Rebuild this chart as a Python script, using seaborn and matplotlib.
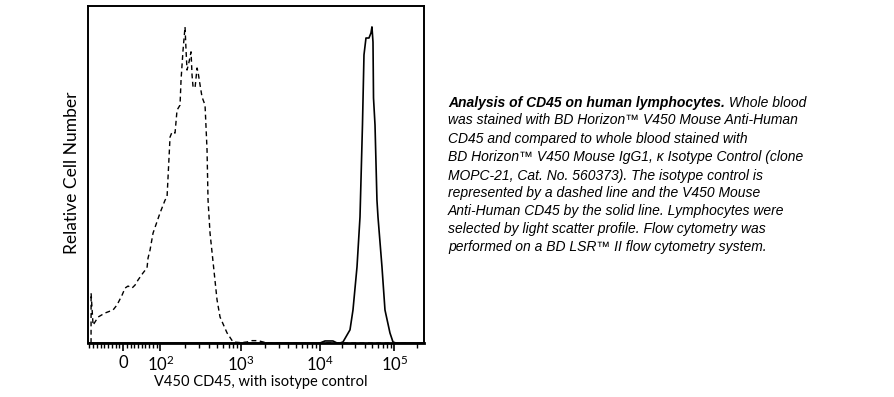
import numpy as np
import pandas as pd
import matplotlib
matplotlib.use("Agg")
import matplotlib.pyplot as plt
import seaborn as sns

# ---------------- data ----------------
iso_x = [-85.8, -85.7, -80.4, -67, -48.3, -26.8, -16.1, -2.7, 5.4, 13.4, 24.1, 32.2, 40.2,
         53.6, 64.3, 67, 72.4, 80.4, 99.2, 114.4, 121.1, 131.9, 139.6, 152.1, 161.0, 175.4,
         180.5, 191.1, 202.3, 208.2, 214.2, 226.8, 240.2, 247.1, 254.3, 269.2, 285.0, 293.3,
         310.5, 328.6, 358.1, 379.1, 390.1, 413.0, 504.3, 549.5, 670.7, 796, 1000, 1192, 1380,
         1645, 1905, 2340, 100000, 262144]
iso_y = [0, 14.8, 5.3, 7.7, 8.9, 9.8, 11.3, 14.2, 16.3, 16.9, 16.3, 17.2, 18.7,
         20.8, 22.3, 25.2, 27.6, 32.6, 38.6, 42.4, 43.3, 61.1, 62.6, 62.3, 69.1, 70.6,
         78.0, 86.9, 93.8, 86.9, 81.0, 83.4, 86.4, 79.5, 76.0, 75.7, 81.6, 80.4,
         76.6, 73.0, 70.6, 57.3, 42.4, 32.6, 12.8, 7.7, 3.0, 0.3, 0.1, 0.3, 0.7,
         0.7, 0.3, 0, 0, 0]

cd45_x = [-94, 10120, 11800, 15100, 17100, 18750, 20560, 25520, 27990, 31690, 34750, 37500,
          39290, 41780, 45810, 48730, 50240, 51880, 52700, 55200, 58610, 60510, 68420,
          75050, 87500, 96100, 105000, 262144]
cd45_y = [0, 0, 0.6, 0.6, 0, 0, 0.3, 3.9, 9.8, 22.6, 37.4, 64.7,
          85.5, 90.5, 90.5, 92.0, 93.8, 89.3, 72.7, 64.7, 42.4, 37.4, 22.6,
          9.8, 3.0, 0.3, 0, 0]

major_ticks = [0, 100, 1000, 10000, 100000]
major_labels = ["0", "$10^2$", "$10^3$", "$10^4$", "$10^5$"]

caption_bold = "Analysis of CD45 on human lymphocytes."
caption_lines = [
    " Whole blood",
    "was stained with BD Horizon\u2122 V450 Mouse Anti-Human",
    "CD45 and compared to whole blood stained with",
    "BD Horizon\u2122 V450 Mouse IgG1, \u03ba Isotype Control (clone",
    "MOPC-21, Cat. No. 560373). The isotype control is",
    "represented by a dashed line and the V450 Mouse",
    "Anti-Human CD45 by the solid line. Lymphocytes were",
    "selected by light scatter profile. Flow cytometry was",
    "performed on a BD LSR\u2122 II flow cytometry system.",
]

# ---------------- biexponential-like axis scale ----------------
_H = [-10, 0, 1, 2, 3, 4, 6]
_P = [-373, 0, 37.3, 118, 196.6, 271.3, 420.7]


def _pre(x):
    x = np.asarray(x, float)
    a = np.abs(x)
    return np.where(a <= 100, x / 100.0,
                    np.sign(x) * (1 + np.log10(np.maximum(a, 100) / 100.0)))


def _fwd(x):
    return np.interp(_pre(x), _H, _P)


def _inv(p):
    hv = np.interp(np.asarray(p, float), _P, _H)
    return np.where(np.abs(hv) <= 1, hv * 100.0,
                    np.sign(hv) * 100.0 * 10 ** (np.abs(hv) - 1))


# ---------------- figure ----------------
sns.set_style("ticks")
plt.rcParams["font.family"] = ["Lato", "DejaVu Sans"]
plt.rcParams["mathtext.fontset"] = "custom"
plt.rcParams["mathtext.rm"] = "Lato"
plt.rcParams["mathtext.it"] = "Lato:italic"
plt.rcParams["mathtext.bf"] = "Lato:bold"
plt.rcParams["text.color"] = "black"
plt.rcParams["axes.labelcolor"] = "black"
plt.rcParams["xtick.color"] = "black"

W, Hh = 895, 397
fig = plt.figure(figsize=(W / 100, Hh / 100), dpi=100)
ax_l, ax_r, ax_t, ax_b = 88, 424, 6, 343
ax = fig.add_axes([ax_l / W, (Hh - ax_b) / Hh, (ax_r - ax_l) / W, (ax_b - ax_t) / Hh])
ax.set_xscale("function", functions=(_fwd, _inv))

df_iso = pd.DataFrame({"x": iso_x, "y": iso_y})
df_cd = pd.DataFrame({"x": cd45_x, "y": cd45_y})
sns.lineplot(data=df_cd, x="x", y="y", ax=ax, color="black", linewidth=1.2,
             estimator=None, sort=False)
sns.lineplot(data=df_iso, x="x", y="y", ax=ax, color="black", linewidth=1.0,
             linestyle=(0, (3.5, 2.5)), estimator=None, sort=False)

ax.set_xlim(-94, 250000)
ax.set_ylim(0, 100)

minor = [-v for v in range(10, 100, 10)] + list(range(10, 100, 10))
for d in (100, 1000, 10000):
    minor += [k * d for k in range(2, 10)]
minor += [200000]
ax.set_xticks(major_ticks)
ax.set_xticklabels(major_labels)
ax.set_xticks(minor, minor=True)
ax.set_yticks([])
ax.tick_params(axis="x", which="major", direction="out", length=6, width=1.2,
               labelsize=12, pad=2.5)
ax.tick_params(axis="x", which="minor", direction="out", length=3.5, width=1.0)
for s in ax.spines.values():
    s.set_visible(True)
    s.set_color("black")
    s.set_linewidth(1.4)
ax.spines["bottom"].set_linewidth(2.0)

ax.set_xlabel("V450 CD45, with isotype control", fontsize=10.5)
ax.xaxis.set_label_coords((261 - ax_l) / (ax_r - ax_l), -(375 - ax_b) / (ax_b - ax_t))
ax.set_ylabel("Relative Cell Number", fontsize=12.5)
ax.yaxis.set_label_coords(-(ax_l - 80) / (ax_r - ax_l), (ax_b - 172.5) / (ax_b - ax_t))
ax.set_facecolor("white")

# ---------------- caption ----------------
cap_family = ["Liberation Sans", "DejaVu Sans"]
x0 = 448
line_centers = [102, 120, 138, 157, 175, 193, 211, 229, 247]
t_bold = fig.text(x0 / W, 1 - (line_centers[0] + 4.5) / Hh, caption_bold,
                  family=cap_family, style="italic", weight="bold", fontsize=10,
                  va="baseline", ha="left", color="black")
fig.canvas.draw()
bb = t_bold.get_window_extent()
fig.text(bb.x1 / W, 1 - (line_centers[0] + 4.5) / Hh, caption_lines[0],
         family=cap_family, style="italic", fontsize=10, va="baseline", ha="left",
         color="black")
for yc, line in zip(line_centers[1:], caption_lines[1:]):
    fig.text(x0 / W, 1 - (yc + 4.5) / Hh, line, family=cap_family, style="italic",
             fontsize=10, va="baseline", ha="left", color="black")

fig.savefig("out.png", dpi=100, facecolor="white")
